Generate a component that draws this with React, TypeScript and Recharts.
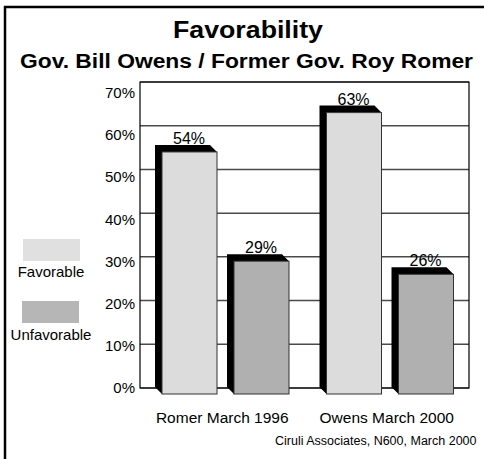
import { BarChart, Bar, XAxis, YAxis, CartesianGrid, LabelList, ReferenceArea } from 'recharts'

const categories = ['Romer March 1996', 'Owens March 2000']
const favorable = [54, 63]
const unfavorable = [29, 26]
const yTicks = [0, 10, 20, 30, 40, 50, 60, 70]

const FAV = '#dcdcdc'
const UNFAV = '#b0b0b0'
const DEPTH = 7
const FONT = '"Liberation Sans", Arial, sans-serif'

const data = categories.map((name, i) => ({ name, fav: favorable[i], unfav: unfavorable[i] }))

// bar with a black extruded side + top, front face pushed right/down by DEPTH
function Bar3D(props: any) {
  const { x, y, width, height, fill } = props
  if (width == null || height == null) return null
  const d = DEPTH
  const bottom = y + height + d - 1
  const back = [
    [x, y - d],
    [x + width - d, y - d],
    [x + width, y],
    [x + d, y],
    [x + d, bottom],
    [x, bottom - d],
  ].map(p => p.join(',')).join(' ')
  return (
    <g>
      <polygon points={back} fill="#000" />
      <rect x={x + d} y={y} width={width - d} height={bottom - y} fill={fill} stroke="#333" strokeWidth={1} />
    </g>
  )
}

function ValueLabel(props: any) {
  const { x, y, width, value } = props
  return (
    <text x={x + width / 2 + 3} y={y - 8} textAnchor="middle" fontSize={16} fontFamily={FONT} fill="#000">
      {value}%
    </text>
  )
}

function CategoryTick(props: any) {
  const { x, y, payload } = props
  return (
    <text x={x} y={y + 35} textAnchor="middle" fontSize={15.5} fontFamily={FONT} fill="#000">
      {payload.value}
    </text>
  )
}

// labels sit slightly lower than the back-wall gridlines, more so near the top
function PercentTick(props: any) {
  const { x, y, payload } = props
  return (
    <text x={x} y={y + 5 + payload.value * 0.16} textAnchor="end" fontSize={15} fontFamily={FONT} fill="#000">
      {payload.value}%
    </text>
  )
}

export default function App() {
  return (
    <div style={{ position: 'absolute', left: 0, top: 0, width: 484, height: 459, overflow: 'hidden', background: '#fff', fontFamily: FONT }}>
      <div style={{ position: 'absolute', left: 0, top: 0 }}>
        <BarChart
          width={484}
          height={459}
          data={data}
          margin={{ top: 82, right: 15, bottom: 31, left: 80 }}
          barCategoryGap={15}
          barGap={10}
        >
          <CartesianGrid horizontal vertical={false} stroke="#4a4a4a" strokeWidth={1.5} />
          <XAxis dataKey="name" height={40} axisLine={false} tickLine={false} tickSize={0} tickMargin={0} tick={<CategoryTick />} interval={0} />
          <YAxis
            width={60}
            domain={[0, 70]}
            ticks={yTicks}
            axisLine={false}
            tickLine={false}
            tickSize={0}
            tickMargin={5}
            tick={<PercentTick />}
            interval={0}
          />
          <ReferenceArea y1={0} y2={70} fill="none" stroke="#000" strokeWidth={1.2} ifOverflow="visible" />
          <Bar dataKey="fav" fill={FAV} shape={(p: any) => <Bar3D {...p} />} isAnimationActive={false}>
            <LabelList dataKey="fav" content={<ValueLabel />} />
          </Bar>
          <Bar dataKey="unfav" fill={UNFAV} shape={(p: any) => <Bar3D {...p} />} isAnimationActive={false}>
            <LabelList dataKey="unfav" content={<ValueLabel />} />
          </Bar>
        </BarChart>
      </div>

      <svg width={484} height={459} style={{ position: 'absolute', left: 0, top: 0, pointerEvents: 'none' }}>
        <line x1={5} y1={6} x2={5} y2={459} stroke="#000" strokeWidth={2.5} />
        <line x1={4} y1={7} x2={484} y2={7} stroke="#000" strokeWidth={2.5} />

        <text x={248} y={38} textAnchor="middle" fontSize={23} fontWeight="bold" fontFamily={FONT} textLength={150} lengthAdjust="spacingAndGlyphs">
          Favorability
        </text>
        <text x={246.5} y={68} textAnchor="middle" fontSize={20} fontWeight="bold" fontFamily={FONT} textLength={453} lengthAdjust="spacingAndGlyphs">
          Gov. Bill Owens / Former Gov. Roy Romer
        </text>

        <rect x={23} y={239} width={57} height={22} fill="#e0e0e0" />
        <text x={51} y={277} textAnchor="middle" fontSize={15} fontFamily={FONT}>Favorable</text>
        <rect x={22} y={301} width={57} height={22} fill="#b6b6b6" />
        <text x={51} y={340} textAnchor="middle" fontSize={15} fontFamily={FONT}>Unfavorable</text>

        <text x={275} y={445} fontSize={12.5} fontFamily={FONT}>Ciruli Associates, N600, March 2000</text>
      </svg>
    </div>
  )
}
